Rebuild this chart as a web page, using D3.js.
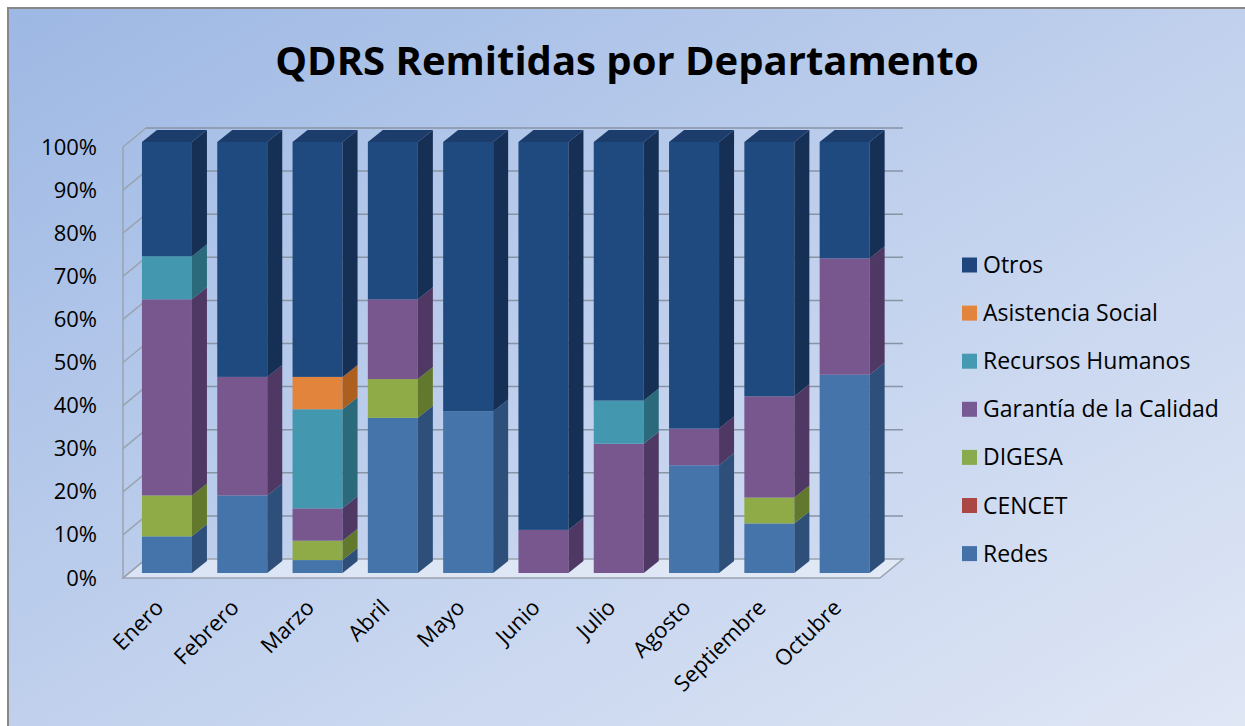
<!DOCTYPE html>
<html lang="es">
<head>
<meta charset="utf-8">
<script src="https://cdn.jsdelivr.net/npm/d3@7"></script>
<style>
  body { margin: 0; background: #fff; }
  svg { display: block; font-family: "Open Sans", sans-serif; }
</style>
</head>
<body>
<script>
// Data (percent of each month)
const months = ["Enero", "Febrero", "Marzo", "Abril", "Mayo", "Junio", "Julio", "Agosto", "Septiembre", "Octubre"];
const seriesNames = ["Redes", "CENCET", "DIGESA", "Garantía de la Calidad", "Recursos Humanos", "Asistencia Social", "Otros"];
const redes      = [8.5, 18, 3, 36, 37.5, 0, 0, 25, 11.5, 46];
const cencet     = [0, 0, 0, 0, 0, 0, 0, 0, 0, 0];
const digesa     = [9.5, 0, 4.5, 9, 0, 0, 0, 0, 6, 0];
const garantia   = [45.5, 27.5, 7.5, 18.5, 0, 10, 30, 8.5, 23.5, 27];
const rrhh       = [10, 0, 23, 0, 0, 0, 10, 0, 0, 0];
const asistencia = [0, 0, 7.5, 0, 0, 0, 0, 0, 0, 0];
const otros      = [26.5, 54.5, 54.5, 36.5, 62.5, 90, 60, 66.5, 59, 27];
const yTicks = [0, 0.1, 0.2, 0.3, 0.4, 0.5, 0.6, 0.7, 0.8, 0.9, 1];

const w = 1245, h = 726;
// front, side, top colours for each series
const colors = {
  "Redes":                  ["#4474aa", "#2d4f7a", "#3a6496"],
  "CENCET":                 ["#b04845", "#7a302e", "#953c3a"],
  "DIGESA":                 ["#8eab47", "#62792d", "#7a933b"],
  "Garantía de la Calidad": ["#78578f", "#4f3863", "#654a7a"],
  "Recursos Humanos":       ["#4398b0", "#2b6a7b", "#38839a"],
  "Asistencia Social":      ["#e2843b", "#ad5f20", "#c8722f"],
  "Otros":                  ["#1f4a80", "#162f55", "#1c3d6c"]
};
const legendColors = {
  "Redes": "#4472a8", "CENCET": "#aa4644", "DIGESA": "#8aab4d",
  "Garantía de la Calidad": "#775a94", "Recursos Humanos": "#4599b0",
  "Asistencia Social": "#e3843d", "Otros": "#1e467c"
};

const table = months.map((m, i) => ({
  month: m,
  "Redes": redes[i], "CENCET": cencet[i], "DIGESA": digesa[i],
  "Garantía de la Calidad": garantia[i], "Recursos Humanos": rrhh[i],
  "Asistencia Social": asistencia[i], "Otros": otros[i]
}));
const series = d3.stack().keys(seriesNames).offset(d3.stackOffsetExpand)(table);

// scales: bar front faces; walls are shifted from these
const xScale = d3.scaleBand().domain(months).range([129.3, 882.3]).paddingInner(0.336).paddingOuter(0.168);
const yScale = d3.scaleLinear().domain([0, 1]).range([573, 142]);
const barDx = 15, barDy = -12;       // bar depth
const frontOff = 5, backOff = -14;   // wall planes vs bar front
const wallLeftF = 123, wallLeftB = 146, wallRightF = 880, wallRightB = 903;

const svg = d3.select("body").append("svg").attr("width", w).attr("height", h);

const defs = svg.append("defs");
const grad = defs.append("linearGradient").attr("id", "bg")
  .attr("x1", "0%").attr("y1", "0%").attr("x2", "100%").attr("y2", "100%");
grad.append("stop").attr("offset", "0%").attr("stop-color", "#9db8e4");
grad.append("stop").attr("offset", "55%").attr("stop-color", "#c4d3ee");
grad.append("stop").attr("offset", "100%").attr("stop-color", "#e0e7f5");

svg.append("rect").attr("x", 8).attr("y", 8).attr("width", w).attr("height", h)
  .attr("fill", "url(#bg)").attr("stroke", "#888").attr("stroke-width", 2);

// title
svg.append("text").attr("x", 627).attr("y", 75).attr("text-anchor", "middle")
  .attr("font-size", 40).attr("font-weight", "bold").attr("fill", "#000")
  .text("QDRS Remitidas por Departamento");

// floor
svg.append("polygon")
  .attr("points", [[wallLeftF, yScale(0) + frontOff], [wallRightF, yScale(0) + frontOff],
                   [wallRightB, yScale(0) + backOff], [wallLeftB, yScale(0) + backOff]].join(" "))
  .attr("fill", "#e8eef8").attr("fill-opacity", 0.7).attr("stroke", "#9aa3b0").attr("stroke-width", 1.5);

// back wall gridlines
svg.append("g").selectAll("line").data(yTicks.slice(1)).join("line")
  .attr("x1", wallLeftB).attr("x2", wallRightB)
  .attr("y1", d => yScale(d) + backOff).attr("y2", d => yScale(d) + backOff)
  .attr("stroke", "#8893a4").attr("stroke-width", 1.5);

// left wall
svg.append("line").attr("x1", wallLeftF).attr("x2", wallLeftF)
  .attr("y1", yScale(1) + frontOff).attr("y2", yScale(0) + frontOff)
  .attr("stroke", "#9aa3b0").attr("stroke-width", 1.5);
svg.append("g").selectAll("line").data(yTicks).join("line")
  .attr("x1", wallLeftF).attr("x2", wallLeftB)
  .attr("y1", d => yScale(d) + frontOff).attr("y2", d => yScale(d) + backOff)
  .attr("stroke", "#9aa3b0").attr("stroke-width", 1.5);

// y axis labels
const yAxis = svg.append("g").attr("transform", `translate(103,${frontOff})`)
  .call(d3.axisLeft(yScale).tickValues(yTicks).tickFormat(d3.format(".0%")).tickSize(0).tickPadding(6));
yAxis.select(".domain").remove();
yAxis.selectAll("text").attr("font-size", 22).attr("font-family", "Open Sans").attr("fill", "#000");

// bars
const bw = xScale.bandwidth();
const lastIdx = series.length - 1;
const layers = svg.append("g").selectAll("g").data(series).join("g");
layers.each(function(s, si) {
  const g = d3.select(this);
  const c = colors[s.key];
  s.forEach((d, i) => {
    if (d[1] - d[0] <= 0) return;
    const x0 = xScale(months[i]), x1 = x0 + bw;
    const yt = yScale(d[1]), yb = yScale(d[0]);
    g.append("rect").attr("x", x0).attr("y", yt).attr("width", bw).attr("height", yb - yt).attr("fill", c[0]);
    g.append("polygon")
      .attr("points", [[x1, yt], [x1 + barDx, yt + barDy], [x1 + barDx, yb + barDy], [x1, yb]].join(" "))
      .attr("fill", c[1]);
    if (si === lastIdx) {
      g.append("polygon")
        .attr("points", [[x0, yt], [x1, yt], [x1 + barDx, yt + barDy], [x0 + barDx, yt + barDy]].join(" "))
        .attr("fill", c[2]);
    }
  });
});

// month labels
svg.append("g").selectAll("text").data(months).join("text")
  .attr("transform", d => `translate(${xScale(d) + bw / 2 - 2},${609}) rotate(-45)`)
  .attr("text-anchor", "end")
  .attr("font-size", 22).attr("fill", "#000")
  .text(d => d);

// legend
const legend = svg.append("g").selectAll("g").data(seriesNames.slice().reverse()).join("g")
  .attr("transform", (d, i) => `translate(962,${265 + i * 48.1})`);
legend.append("rect").attr("x", 0).attr("y", -7.5).attr("width", 15).attr("height", 15)
  .attr("fill", d => legendColors[d]);
legend.append("text").attr("x", 21).attr("dy", "0.35em").attr("font-size", 23).attr("fill", "#000")
  .text(d => d);
</script>
</body>
</html>
